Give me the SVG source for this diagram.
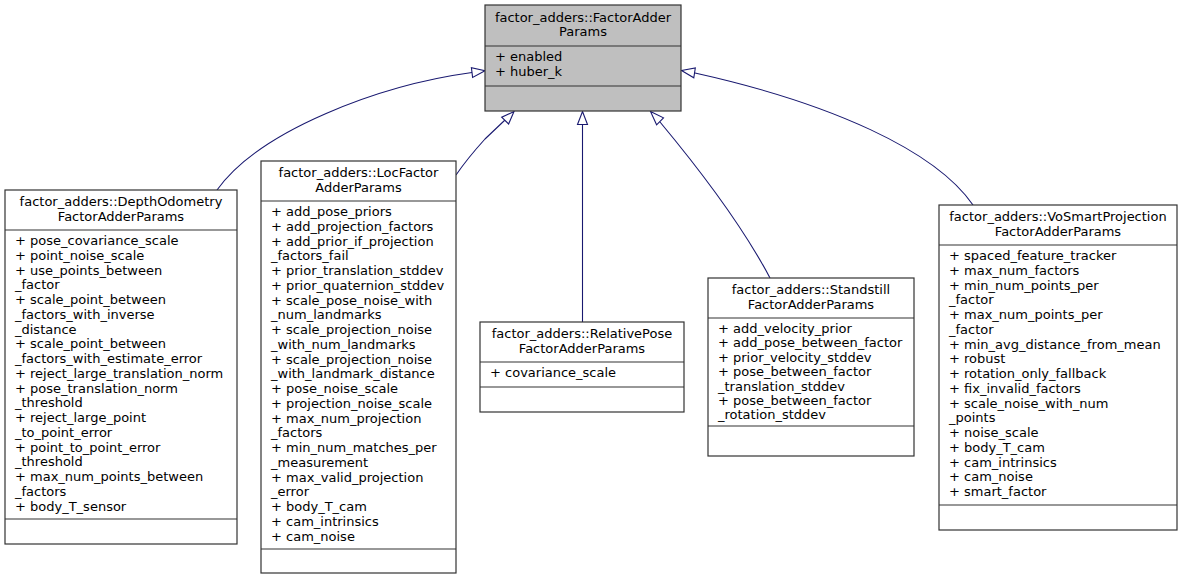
<svg xmlns="http://www.w3.org/2000/svg" width="1183" height="580" viewBox="0 0 1183 580">
<style>
  text { font-family: "DejaVu Sans", sans-serif; font-size: 13px; fill: #000; }
  .t { text-anchor: middle; }
  .box { fill: #ffffff; stroke: #333333; stroke-width: 1.2; }
  .main { fill: #bfbfbf; stroke: #333333; stroke-width: 1.2; }
  .sep { stroke: #333333; stroke-width: 1.2; fill: none; }
  .edge { fill: none; stroke: #191970; stroke-width: 1.1; }
  .arr { fill: #ffffff; stroke: #191970; stroke-width: 1.1; }
</style>
<rect width="1183" height="580" fill="#ffffff"/>

<g id="connectors">
  <path class="edge" d="M217,190 C260,130 380,85 472,72.5"/>
  <polygon class="arr" points="485,70.8 472.6,77.4 471.4,67.6"/>
  <path class="edge" d="M456,175 C465,162 475,150 485,139 L505,120"/>
  <polygon class="arr" points="514,111.5 508.6,124 501.7,117.2"/>
  <path class="edge" d="M582.5,322 L582.5,124"/>
  <polygon class="arr" points="582.5,111.5 587.5,124.5 577.5,124.5"/>
  <path class="edge" d="M770,278 C742,225 700,170 660,122"/>
  <polygon class="arr" points="650.5,111.5 663.5,117.8 656.6,124.8"/>
  <path class="edge" d="M973,205 C935,150 830,103 695,73"/>
  <polygon class="arr" points="681.5,70.5 695.3,68 693.8,77.8"/>
</g>

<g id="FactorAdderParams">
  <rect class="main" x="485" y="5" width="196" height="106"/>
  <line class="sep" x1="485" y1="46" x2="681" y2="46"/>
  <line class="sep" x1="485" y1="86" x2="681" y2="86"/>
  <text class="t" x="583" y="21.5">factor_adders::FactorAdder</text>
  <text class="t" x="583" y="36">Params</text>
  <text x="495" y="61">+ enabled</text>
  <text x="495" y="76">+ huber_k</text>
</g>

<g id="DepthOdometryFactorAdderParams">
  <rect class="box" x="5" y="190" width="232" height="354"/>
  <line class="sep" x1="5" y1="230" x2="237" y2="230"/>
  <line class="sep" x1="5" y1="519" x2="237" y2="519"/>
  <text class="t" x="121" y="206">factor_adders::DepthOdometry</text>
  <text class="t" x="121" y="220.5">FactorAdderParams</text>
  <text x="15" y="245">
    <tspan x="15" dy="0">+ pose_covariance_scale</tspan>
    <tspan x="15" dy="14.75">+ point_noise_scale</tspan>
    <tspan x="15" dy="14.75">+ use_points_between</tspan>
    <tspan x="15" dy="14.75">_factor</tspan>
    <tspan x="15" dy="14.75">+ scale_point_between</tspan>
    <tspan x="15" dy="14.75">_factors_with_inverse</tspan>
    <tspan x="15" dy="14.75">_distance</tspan>
    <tspan x="15" dy="14.75">+ scale_point_between</tspan>
    <tspan x="15" dy="14.75">_factors_with_estimate_error</tspan>
    <tspan x="15" dy="14.75">+ reject_large_translation_norm</tspan>
    <tspan x="15" dy="14.75">+ pose_translation_norm</tspan>
    <tspan x="15" dy="14.75">_threshold</tspan>
    <tspan x="15" dy="14.75">+ reject_large_point</tspan>
    <tspan x="15" dy="14.75">_to_point_error</tspan>
    <tspan x="15" dy="14.75">+ point_to_point_error</tspan>
    <tspan x="15" dy="14.75">_threshold</tspan>
    <tspan x="15" dy="14.75">+ max_num_points_between</tspan>
    <tspan x="15" dy="14.75">_factors</tspan>
    <tspan x="15" dy="14.75">+ body_T_sensor</tspan>
  </text>
</g>

<g id="LocFactorAdderParams">
  <rect class="box" x="261" y="161" width="195" height="412"/>
  <line class="sep" x1="261" y1="201" x2="456" y2="201"/>
  <line class="sep" x1="261" y1="549" x2="456" y2="549"/>
  <text class="t" x="358.5" y="177">factor_adders::LocFactor</text>
  <text class="t" x="358.5" y="191.5">AdderParams</text>
  <text x="271" y="216">
    <tspan x="271" dy="0">+ add_pose_priors</tspan>
    <tspan x="271" dy="14.75">+ add_projection_factors</tspan>
    <tspan x="271" dy="14.75">+ add_prior_if_projection</tspan>
    <tspan x="271" dy="14.75">_factors_fail</tspan>
    <tspan x="271" dy="14.75">+ prior_translation_stddev</tspan>
    <tspan x="271" dy="14.75">+ prior_quaternion_stddev</tspan>
    <tspan x="271" dy="14.75">+ scale_pose_noise_with</tspan>
    <tspan x="271" dy="14.75">_num_landmarks</tspan>
    <tspan x="271" dy="14.75">+ scale_projection_noise</tspan>
    <tspan x="271" dy="14.75">_with_num_landmarks</tspan>
    <tspan x="271" dy="14.75">+ scale_projection_noise</tspan>
    <tspan x="271" dy="14.75">_with_landmark_distance</tspan>
    <tspan x="271" dy="14.75">+ pose_noise_scale</tspan>
    <tspan x="271" dy="14.75">+ projection_noise_scale</tspan>
    <tspan x="271" dy="14.75">+ max_num_projection</tspan>
    <tspan x="271" dy="14.75">_factors</tspan>
    <tspan x="271" dy="14.75">+ min_num_matches_per</tspan>
    <tspan x="271" dy="14.75">_measurement</tspan>
    <tspan x="271" dy="14.75">+ max_valid_projection</tspan>
    <tspan x="271" dy="14.75">_error</tspan>
    <tspan x="271" dy="14.75">+ body_T_cam</tspan>
    <tspan x="271" dy="14.75">+ cam_intrinsics</tspan>
    <tspan x="271" dy="14.75">+ cam_noise</tspan>
  </text>
</g>

<g id="RelativePoseFactorAdderParams">
  <rect class="box" x="480" y="322" width="204" height="90"/>
  <line class="sep" x1="480" y1="362" x2="684" y2="362"/>
  <line class="sep" x1="480" y1="387" x2="684" y2="387"/>
  <text class="t" x="582" y="338">factor_adders::RelativePose</text>
  <text class="t" x="582" y="352.5">FactorAdderParams</text>
  <text x="490" y="377">+ covariance_scale</text>
</g>

<g id="StandstillFactorAdderParams">
  <rect class="box" x="708" y="278" width="206" height="178"/>
  <line class="sep" x1="708" y1="318" x2="914" y2="318"/>
  <line class="sep" x1="708" y1="426" x2="914" y2="426"/>
  <text class="t" x="811" y="294">factor_adders::Standstill</text>
  <text class="t" x="811" y="308.5">FactorAdderParams</text>
  <text x="718" y="333">
    <tspan x="718" dy="0">+ add_velocity_prior</tspan>
    <tspan x="718" dy="14.4">+ add_pose_between_factor</tspan>
    <tspan x="718" dy="14.4">+ prior_velocity_stddev</tspan>
    <tspan x="718" dy="14.4">+ pose_between_factor</tspan>
    <tspan x="718" dy="14.4">_translation_stddev</tspan>
    <tspan x="718" dy="14.4">+ pose_between_factor</tspan>
    <tspan x="718" dy="14.4">_rotation_stddev</tspan>
  </text>
</g>

<g id="VoSmartProjectionFactorAdderParams">
  <rect class="box" x="939" y="205" width="238" height="325"/>
  <line class="sep" x1="939" y1="245" x2="1177" y2="245"/>
  <line class="sep" x1="939" y1="505" x2="1177" y2="505"/>
  <text class="t" x="1058" y="221">factor_adders::VoSmartProjection</text>
  <text class="t" x="1058" y="235.5">FactorAdderParams</text>
  <text x="949" y="260">
    <tspan x="949" dy="0">+ spaced_feature_tracker</tspan>
    <tspan x="949" dy="14.75">+ max_num_factors</tspan>
    <tspan x="949" dy="14.75">+ min_num_points_per</tspan>
    <tspan x="949" dy="14.75">_factor</tspan>
    <tspan x="949" dy="14.75">+ max_num_points_per</tspan>
    <tspan x="949" dy="14.75">_factor</tspan>
    <tspan x="949" dy="14.75">+ min_avg_distance_from_mean</tspan>
    <tspan x="949" dy="14.75">+ robust</tspan>
    <tspan x="949" dy="14.75">+ rotation_only_fallback</tspan>
    <tspan x="949" dy="14.75">+ fix_invalid_factors</tspan>
    <tspan x="949" dy="14.75">+ scale_noise_with_num</tspan>
    <tspan x="949" dy="14.75">_points</tspan>
    <tspan x="949" dy="14.75">+ noise_scale</tspan>
    <tspan x="949" dy="14.75">+ body_T_cam</tspan>
    <tspan x="949" dy="14.75">+ cam_intrinsics</tspan>
    <tspan x="949" dy="14.75">+ cam_noise</tspan>
    <tspan x="949" dy="14.75">+ smart_factor</tspan>
  </text>
</g>
</svg>
